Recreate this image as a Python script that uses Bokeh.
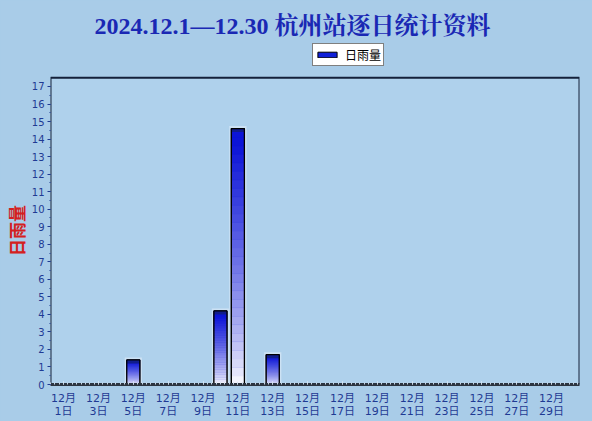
from bokeh.plotting import figure
from bokeh.models import Range1d, FixedTicker, Legend, LegendItem, ColumnDataSource, BoxAnnotation
from bokeh.embed import file_html
from bokeh.resources import INLINE

# ---- data ----
days = [1, 2, 3, 4, 5, 6, 7, 8, 9, 10, 11, 12, 13, 14, 15,
        16, 17, 18, 19, 20, 21, 22, 23, 24, 25, 26, 27, 28, 29, 30]
rain = [0, 0, 0, 0, 1.4, 0, 0, 0, 0, 4.2, 14.6, 0, 1.7, 0, 0,
        0, 0, 0, 0, 0, 0, 0, 0, 0, 0, 0, 0, 0, 0, 0]
label_days = [1, 3, 5, 7, 9, 11, 13, 15, 17, 19, 21, 23, 25, 27, 29]
y_ticks = [0, 1, 2, 3, 4, 5, 6, 7, 8, 9, 10, 11, 12, 13, 14, 15, 16, 17]
y_top = 17.5
title_text = "2024.12.1—12.30 杭州站逐日统计资料"
series_name = "日雨量"

BG = "#a9cce8"
PLOT_BG = "#afd1ec"
W = 0.75

p = figure(width=592, height=421, output_backend="svg", toolbar_location=None,
           x_range=Range1d(0.25, 30.6), y_range=Range1d(0, 19.51),
           min_border_left=50, min_border_right=13, min_border_top=42,
           min_border_bottom=37)
p.background_fill_color = BG
p.border_fill_color = BG
p.outline_line_color = None
p.xgrid.grid_line_color = None
p.ygrid.grid_line_color = None

# plot area panel (the frame also holds the legend strip above it)
p.add_layout(BoxAnnotation(bottom=0, top=y_top, fill_color=PLOT_BG, fill_alpha=1,
                           line_color="#14203a", line_alpha=1, line_width=2,
                           level="underlay"))

# title
p.title.text = title_text
p.title.align = "left"
p.title.offset = 44
p.title.text_font = "'Liberation Serif', 'Noto Serif CJK SC', 'Noto Sans CJK SC'"
p.title.text_font_size = "24px"
p.title.text_font_style = "bold"
p.title.text_color = "#1a28b4"
p.title.standoff = 8

# bars
nz = [(d, v) for d, v in zip(days, rain) if v > 0]
halo = ColumnDataSource(dict(
    left=[d - W / 2 - 0.12 for d, v in nz], right=[d + W / 2 + 0.12 for d, v in nz],
    top=[v + 0.14 for d, v in nz], bottom=[0 for d, v in nz]))
p.quad(left="left", right="right", top="top", bottom="bottom", source=halo,
       fill_color="#d4e6f6", fill_alpha=0.8, line_color=None)

base = p.quad(left=[d - W / 2 for d in days], right=[d + W / 2 for d in days],
              top=rain, bottom=[0] * len(days),
              fill_color="#1020d8", line_color="black", line_width=1)

N = 30
top_rgb = (12, 20, 215)
sl, sr, sb, st, sc = [], [], [], [], []
for d, v in nz:
    for i in range(N):
        t = (i + 0.5) / N
        f = min(1.0, t ** 0.75 * 1.05)
        r = round(255 + (top_rgb[0] - 255) * f)
        g = round(255 + (top_rgb[1] - 255) * f)
        b = round(255 + (top_rgb[2] - 255) * f)
        sl.append(d - W / 2)
        sr.append(d + W / 2)
        sb.append(v * i / N)
        st.append(v * (i + 1) / N)
        sc.append("#%02x%02x%02x" % (r, g, b))
p.quad(left=sl, right=sr, bottom=sb, top=st, fill_color=sc, line_color=sc, line_width=0.5)

cap = ColumnDataSource(dict(
    left=[d - W / 2 for d, v in nz], right=[d + W / 2 for d, v in nz],
    top=[v for d, v in nz], bottom=[v - 0.2 for d, v in nz]))
p.quad(left="left", right="right", top="top", bottom="bottom", source=cap,
       fill_color="#101c8c", line_color=None)
p.quad(left=[d - W / 2 for d, v in nz], right=[d + W / 2 for d, v in nz],
       top=[v for d, v in nz], bottom=[0 for d, v in nz],
       fill_color=None, line_color="black", line_width=1.3)

# axes
tick_font = "'DejaVu Sans', 'Noto Sans CJK SC'"
p.yaxis.ticker = FixedTicker(ticks=y_ticks, minor_ticks=[i / 2 for i in range(0, 35)])
p.yaxis.major_label_text_font = tick_font
p.yaxis.major_label_text_font_size = "10px"
p.yaxis.major_label_text_color = "#1f3a93"
p.yaxis.major_label_standoff = 3
p.yaxis.major_tick_out = 3
p.yaxis.major_tick_in = 0
p.yaxis.minor_tick_out = 1
p.yaxis.minor_tick_in = 0
p.yaxis.major_tick_line_color = "#1f3a93"
p.yaxis.minor_tick_line_color = "#1f3a93"
p.yaxis.axis_line_color = None
# ideographic spaces keep the label centred on the 0-17.5 panel rather than the full frame
p.yaxis.axis_label = series_name + "\u3000\u3000"
p.yaxis.axis_label_text_color = "#d42020"
p.yaxis.axis_label_text_font = "'Noto Sans CJK SC'"
p.yaxis.axis_label_text_font_size = "17px"
p.yaxis.axis_label_text_font_style = "bold"
p.yaxis.axis_label_standoff = 0

p.xaxis.ticker = FixedTicker(ticks=label_days, minor_ticks=[i / 4 for i in range(1, 123)])
p.xaxis.major_label_overrides = {d: "12月\n%d日" % d for d in label_days}
p.xaxis.major_label_text_font = tick_font
p.xaxis.major_label_text_font_size = "11px"
p.xaxis.major_label_text_color = "#1f3a93"
p.xaxis.major_label_text_line_height = 1.0
p.xaxis.major_label_standoff = 7
p.xaxis.major_tick_in = 3
p.xaxis.major_tick_out = 0
p.xaxis.minor_tick_in = 2
p.xaxis.minor_tick_out = 0
p.xaxis.major_tick_line_color = "#e8f0f8"
p.xaxis.minor_tick_line_color = "#c8d8e8"
p.xaxis.axis_line_color = "#2c3440"
p.xaxis.axis_line_width = 3

# legend
legend = Legend(items=[LegendItem(label=series_name, renderers=[base])],
                location=(262, 318), orientation="horizontal",
                background_fill_color="white", background_fill_alpha=1,
                border_line_color="black", border_line_width=1,
                label_text_font="'Noto Sans CJK SC'", label_text_font_size="12px",
                label_text_color="black",
                glyph_width=24, glyph_height=7, label_standoff=6,
                label_height=11, padding=2, margin=0, spacing=0)
p.add_layout(legend, "center")

html = file_html(p, INLINE)
html = html.replace("<head>", "<head><style>html,body{background:%s;overflow:hidden;}</style>" % BG, 1)
open("out.html", "w").write(html)
